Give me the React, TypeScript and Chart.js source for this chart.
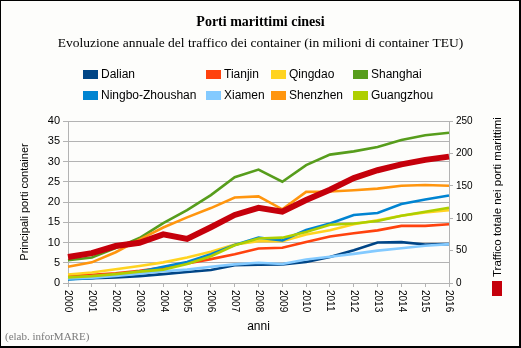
import React, { useEffect, useRef } from 'react';
import { Chart, registerables } from 'chart.js';

Chart.register(...registerables);

const years = ['2000', '2001', '2002', '2003', '2004', '2005', '2006', '2007', '2008', '2009', '2010', '2011', '2012', '2013', '2014', '2015', '2016'];

const dalian = [1.0, 1.2, 1.35, 1.7, 2.2, 2.7, 3.2, 4.4, 4.5, 4.6, 5.2, 6.4, 8.1, 10.0, 10.1, 9.5, 9.6];
const tianjin = [1.7, 2.0, 2.4, 3.0, 3.8, 4.8, 5.9, 7.1, 8.5, 8.7, 10.1, 11.5, 12.3, 13.0, 14.1, 14.1, 14.5];
const qingdao = [2.1, 2.6, 3.4, 4.2, 5.1, 6.3, 7.7, 9.5, 10.3, 10.3, 12.0, 13.0, 14.5, 15.5, 16.6, 17.4, 18.0];
const shanghai = [5.6, 6.3, 8.6, 11.1, 14.8, 18.0, 21.7, 26.1, 28.0, 25.0, 29.1, 31.7, 32.5, 33.6, 35.3, 36.5, 37.1];
const ningbo = [0.9, 1.2, 1.9, 2.8, 4.0, 5.2, 7.1, 9.4, 11.2, 10.5, 13.1, 14.7, 16.8, 17.3, 19.5, 20.6, 21.6];
const xiamen = [1.1, 1.3, 1.75, 2.3, 2.9, 3.3, 4.0, 4.6, 5.0, 4.7, 5.8, 6.5, 7.2, 8.0, 8.6, 9.2, 9.6];
const shenzhen = [4.0, 5.1, 7.6, 10.7, 13.7, 16.2, 18.5, 21.1, 21.4, 18.2, 22.5, 22.6, 22.9, 23.3, 24.0, 24.2, 24.0];
const guangzhou = [1.4, 1.7, 2.2, 2.8, 3.3, 4.7, 6.6, 9.3, 11.0, 11.2, 12.6, 14.4, 14.7, 15.3, 16.6, 17.6, 18.6];
const totale = [40, 46, 57, 62, 75, 68, 86, 105, 116, 110, 128, 144, 162, 174, 183, 190, 195];

const seriesNames = ['Dalian', 'Tianjin', 'Qingdao', 'Shanghai', 'Ningbo-Zhoushan', 'Xiamen', 'Shenzhen', 'Guangzhou'];
const seriesColors = ['#004586', '#ff420e', '#ffd320', '#579d1c', '#0084d1', '#83caff', '#ff950e', '#aecf00'];
const seriesData = [dalian, tianjin, qingdao, shanghai, ningbo, xiamen, shenzhen, guangzhou];
const totalName = 'Traffico totale nei porti marittimi';
const totalColor = '#c5000b';

const titleText = 'Porti marittimi cinesi';
const subtitleText = 'Evoluzione annuale del traffico dei container (in milioni di container TEU)';
const creditText = '(elab. inforMARE)';

const SANS = '"Liberation Sans", Arial, sans-serif';
const SERIF = '"Liberation Serif", "Times New Roman", serif';

const decorPlugin = {
  id: 'decor',
  afterDraw(chart: any) {
    const ctx = chart.ctx;
    const W = chart.width;
    ctx.save();
    // Titles
    ctx.fillStyle = '#000';
    ctx.textAlign = 'center';
    ctx.textBaseline = 'middle';
    ctx.font = `bold 14px ${SERIF}`;
    ctx.fillText(titleText, W / 2, 22);
    ctx.font = `13.5px ${SERIF}`;
    ctx.fillText(subtitleText, W / 2, 43);

    // Legend grid (2 rows x 4 cols)
    const cols = [83, 206, 271, 353];
    const rows = [70, 91];
    ctx.font = `12px ${SANS}`;
    ctx.textAlign = 'left';
    seriesNames.forEach((name, i) => {
      const c = cols[i % 4];
      const r = rows[Math.floor(i / 4)];
      ctx.fillStyle = seriesColors[i];
      ctx.fillRect(c, r, 15, 9);
      ctx.fillStyle = '#000';
      ctx.fillText(name, c + 18, r + 5);
    });

    // Right rotated legend for total
    ctx.fillStyle = totalColor;
    ctx.fillRect(492, 281, 10, 15);
    ctx.fillStyle = '#000';
    ctx.font = `11.5px ${SANS}`;
    ctx.save();
    ctx.translate(497.5, 277);
    ctx.rotate(-Math.PI / 2);
    ctx.textAlign = 'left';
    ctx.textBaseline = 'middle';
    ctx.fillText(totalName, 0, 0);
    ctx.restore();

    // X tick labels rotated clockwise
    const xs = chart.scales.x;
    ctx.font = `10px ${SANS}`;
    ctx.fillStyle = '#000';
    years.forEach((y, i) => {
      const px = xs.getPixelForValue(i);
      ctx.save();
      ctx.translate(px, xs.top + 7);
      ctx.rotate(Math.PI / 2);
      ctx.textAlign = 'left';
      ctx.textBaseline = 'middle';
      ctx.fillText(y, 0, 0);
      ctx.restore();
    });

    // Credit
    ctx.font = `11px ${SERIF}`;
    ctx.fillStyle = '#7a7a7a';
    ctx.textAlign = 'left';
    ctx.textBaseline = 'middle';
    ctx.fillText(creditText, 5, 337);
    ctx.restore();
  },
};

const bgPlugin = {
  id: 'bg',
  beforeDraw(chart: any) {
    const ctx = chart.ctx;
    ctx.save();
    ctx.fillStyle = '#fdfdfb';
    ctx.fillRect(0, 0, chart.width, chart.height);
    ctx.restore();
  },
};

export default function App() {
  const ref = useRef<HTMLCanvasElement | null>(null);

  useEffect(() => {
    if (!ref.current) return;
    const n = seriesNames.length;
    const datasets: any[] = seriesNames.map((name, i) => ({
      label: name,
      data: seriesData[i],
      borderColor: seriesColors[i],
      backgroundColor: seriesColors[i],
      borderWidth: 2.6,
      pointRadius: 0,
      tension: 0,
      fill: false,
      yAxisID: 'y',
      order: n - i,
    }));
    datasets.push({
      label: totalName,
      data: totale,
      borderColor: totalColor,
      backgroundColor: totalColor,
      borderWidth: 6,
      pointRadius: 0,
      tension: 0,
      fill: false,
      yAxisID: 'y1',
      order: 0,
    });

    const chart = new Chart(ref.current, {
      type: 'line',
      data: { labels: years, datasets },
      options: {
        animation: false,
        responsive: false,
        devicePixelRatio: 1,
        layout: { padding: { top: 121, left: 0, right: 0, bottom: 0 } },
        plugins: {
          legend: { display: false },
          title: { display: false },
          tooltip: { enabled: false },
        },
        scales: {
          x: {
            type: 'category',
            offset: false,
            grid: { drawOnChartArea: false, drawTicks: true, tickLength: 4, color: '#b3b3b3' },
            border: { color: '#b3b3b3' },
            ticks: { display: false },
            title: {
              display: true,
              text: 'anni',
              color: '#000',
              font: { family: SANS, size: 12 },
              padding: { top: 0, bottom: 14 },
            },
            afterFit: (s: any) => { s.height = 65; },
          },
          y: {
            position: 'left',
            min: 0,
            max: 40,
            ticks: { stepSize: 5, color: '#000', font: { family: SANS, size: 11 }, padding: 3 },
            grid: { color: '#b3b3b3', tickLength: 5 },
            border: { color: '#b3b3b3' },
            title: {
              display: true,
              text: 'Principali porti container',
              color: '#000',
              font: { family: SANS, size: 11 },
              padding: { top: 18, bottom: 0 },
            },
            afterFit: (s: any) => { s.width = 68; },
          },
          y1: {
            position: 'right',
            min: 0,
            max: 250,
            ticks: { stepSize: 50, color: '#000', font: { family: SANS, size: 10 }, padding: 3 },
            grid: { drawOnChartArea: false, color: '#b3b3b3', tickLength: 4 },
            border: { color: '#b3b3b3' },
            afterFit: (s: any) => { s.width = 72; },
          },
        },
      },
      plugins: [bgPlugin, decorPlugin],
    });
    return () => chart.destroy();
  }, []);

  return (
    <div style={{ position: 'fixed', left: 0, top: 0, width: 521, height: 348 }}>
      <canvas ref={ref} width={521} height={348} style={{ width: 521, height: 348, display: 'block' }} />
      <div
        style={{
          position: 'absolute',
          left: 0,
          top: 0,
          width: 521,
          height: 348,
          boxSizing: 'border-box',
          borderTop: '1px solid #000',
          borderLeft: '1px solid #000',
          borderRight: '2px solid #000',
          borderBottom: '2px solid #000',
          pointerEvents: 'none',
        }}
      />
    </div>
  );
}
